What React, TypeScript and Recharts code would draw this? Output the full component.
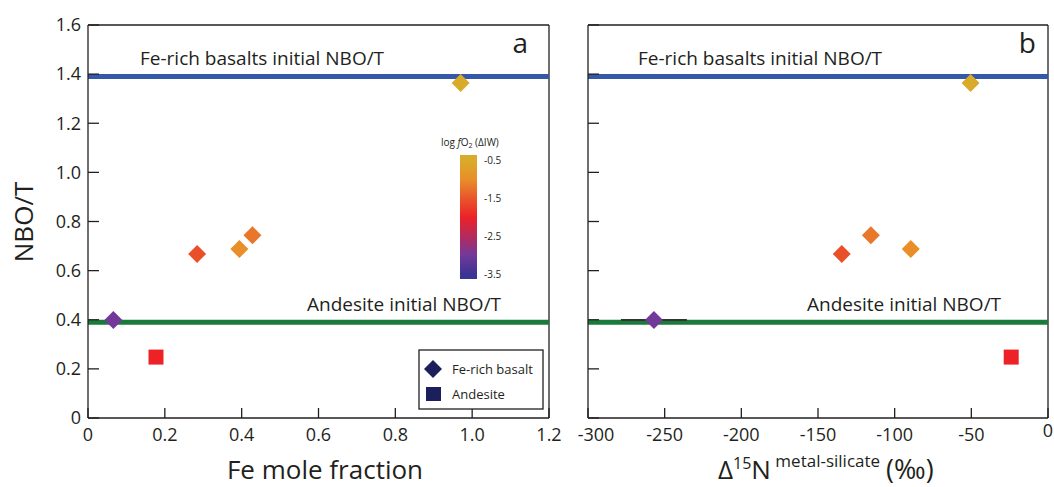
import React from 'react';
import { ScatterChart, Scatter, XAxis, YAxis, ReferenceLine, ErrorBar } from 'recharts';

// Fe-rich basalt runs (diamonds)
const basaltFe = [0.066, 0.284, 0.394, 0.428, 0.97];
const basaltNbo = [0.399, 0.668, 0.688, 0.744, 1.364];
const basaltD15N = [-257, -134.5, -89.5, -115.5, -50.5];
const basaltD15NErr = [21.5, 0, 0, 0, 0];
const basaltLogFO2 = [-3.0, -1.55, -1.0, -1.2, -0.5];

// andesite run (square)
const andesiteFe = [0.177];
const andesiteNbo = [0.248];
const andesiteD15N = [-24];
const andesiteLogFO2 = [-2.0];

const basaltInitialNbo = 1.39;
const andesiteInitialNbo = 0.39;

const feTicks = [0, 0.2, 0.4, 0.6, 0.8, 1.0, 1.2];
const nboTicks = [0, 0.2, 0.4, 0.6, 0.8, 1.0, 1.2, 1.4, 1.6];
const d15NTicks = [-300, -250, -200, -150, -100, -50, 0];
const fo2Ticks = [-0.5, -1.5, -2.5, -3.5];

const FONT = '"Open Sans", sans-serif';
const INK = '#231f20';
const BLUE = '#3558a8';
const GREEN = '#1a7a3c';
const NAVY = '#1b1f5b';

// colour scale of the log fO2 bar
const fo2Stops: [number, string][] = [
  [-0.5, '#d9ab2b'],
  [-1.0, '#e98e28'],
  [-1.5, '#e9552a'],
  [-2.0, '#ec2227'],
  [-2.5, '#b52a5c'],
  [-3.0, '#72399a'],
  [-3.5, '#3b3492'],
];

function hexToRgb(h: string) {
  return [1, 3, 5].map((i) => parseInt(h.slice(i, i + 2), 16));
}

function fo2Color(v: number) {
  if (v >= fo2Stops[0][0]) return fo2Stops[0][1];
  for (let i = 1; i < fo2Stops.length; i++) {
    const [v1, c1] = fo2Stops[i];
    const [v0, c0] = fo2Stops[i - 1];
    if (v >= v1) {
      const t = (v0 - v) / (v0 - v1);
      const a = hexToRgb(c0);
      const b = hexToRgb(c1);
      const m = a.map((x, k) => Math.round(x + (b[k] - x) * t));
      return `rgb(${m[0]},${m[1]},${m[2]})`;
    }
  }
  return fo2Stops[fo2Stops.length - 1][1];
}

const basaltA = basaltFe.map((fe, i) => ({ x: fe, y: basaltNbo[i], fo2: basaltLogFO2[i] }));
const andesiteA = andesiteFe.map((fe, i) => ({ x: fe, y: andesiteNbo[i], fo2: andesiteLogFO2[i] }));
const basaltB = basaltD15N.map((d, i) => ({ x: d, y: basaltNbo[i], fo2: basaltLogFO2[i], err: basaltD15NErr[i] }));
const andesiteB = andesiteD15N.map((d, i) => ({ x: d, y: andesiteNbo[i], fo2: andesiteLogFO2[i] }));

const Diamond = (props: any) => {
  const { cx, cy, payload } = props;
  const r = 9;
  return (
    <polygon
      points={`${cx},${cy - r} ${cx + r},${cy} ${cx},${cy + r} ${cx - r},${cy}`}
      fill={fo2Color(payload.fo2)}
    />
  );
};

const Square = (props: any) => {
  const { cx, cy, payload } = props;
  return <rect x={cx - 7.5} y={cy - 7.5} width={15} height={15} fill={fo2Color(payload.fo2)} />;
};

const Y_MARGIN = 7;
const X_MARGIN = 10;
const TICK_LEN = 11;

const fmt1 = (v: number) => (v === 0 ? '0' : v.toFixed(1));

const LeftTick = (props: any, showLabel: boolean) => {
  const { x, y, payload } = props;
  const ax = x + Y_MARGIN;
  return (
    <g>
      <line x1={ax} x2={ax + TICK_LEN} y1={y} y2={y} stroke={INK} strokeWidth={1.3} />
      {showLabel && (
        <text x={x} y={y} dy="0.35em" textAnchor="end" fontFamily={FONT} fontSize={18} fill={INK}>
          {fmt1(payload.value)}
        </text>
      )}
    </g>
  );
};

// panel b: "0" sits a little higher and "-300" a little right, as in the original
const BottomTick = (props: any, label: (v: number) => string, shiftEnds: boolean) => {
  const { x, y, payload } = props;
  const ay = y - X_MARGIN;
  const lift = shiftEnds && payload.value === 0 ? -4 : 0;
  const nudge = shiftEnds && payload.value === -300 ? 8 : 0;
  return (
    <g>
      <line x1={x} x2={x} y1={ay} y2={ay - 10} stroke={INK} strokeWidth={1.3} />
      <text x={x + nudge} y={y + lift} dy="0.71em" textAnchor="middle" fontFamily={FONT} fontSize={18} fill={INK}>
        {label(payload.value)}
      </text>
    </g>
  );
};

const axisLine = { stroke: INK, strokeWidth: 1.3 };

// colour bar geometry
const barTop = 155;
const barBottom = 279;
const fo2Y = (v: number) => 160.7 + (-0.5 - v) * 37.8;

export default function App() {
  return (
    <div style={{ position: 'absolute', left: 0, top: 0, width: 1054, height: 487, background: '#fff', overflow: 'hidden' }}>
      <div style={{ position: 'absolute', left: 0, top: 0 }}>
        <ScatterChart width={580} height={487} margin={{ top: 25, right: 31, bottom: 0, left: 0 }}>
          <XAxis
            type="number"
            dataKey="x"
            domain={[0, 1.2]}
            ticks={feTicks}
            interval={0}
            height={69}
            tickSize={0}
            tickMargin={X_MARGIN}
            tickLine={false}
            axisLine={axisLine}
            tick={(p: any) => BottomTick(p, fmt1, false)}
          />
          <YAxis
            type="number"
            dataKey="y"
            domain={[0, 1.6]}
            ticks={nboTicks}
            interval={0}
            width={88}
            tickSize={0}
            tickMargin={Y_MARGIN}
            tickLine={false}
            axisLine={axisLine}
            tick={(p: any) => LeftTick(p, true)}
          />
          <ReferenceLine y={1.6} stroke={INK} strokeWidth={1.3} />
          <ReferenceLine x={1.2} stroke={INK} strokeWidth={1.3} />
          <ReferenceLine y={basaltInitialNbo} stroke={BLUE} strokeWidth={5} />
          <ReferenceLine y={andesiteInitialNbo} stroke={GREEN} strokeWidth={5} />
          <Scatter data={basaltA} shape={Diamond} isAnimationActive={false} />
          <Scatter data={andesiteA} shape={Square} isAnimationActive={false} />
        </ScatterChart>
      </div>
      <div style={{ position: 'absolute', left: 560, top: 0 }}>
        <ScatterChart width={494} height={487} margin={{ top: 25, right: 6, bottom: 0, left: 0 }}>
          <XAxis
            type="number"
            dataKey="x"
            domain={[-300, 0]}
            ticks={d15NTicks}
            interval={0}
            height={69}
            tickSize={0}
            tickMargin={X_MARGIN}
            tickLine={false}
            axisLine={axisLine}
            tick={(p: any) => BottomTick(p, (v) => String(v), true)}
          />
          <YAxis
            type="number"
            dataKey="y"
            domain={[0, 1.6]}
            ticks={nboTicks}
            interval={0}
            width={28}
            tickSize={0}
            tickMargin={Y_MARGIN}
            tickLine={false}
            axisLine={axisLine}
            tick={(p: any) => LeftTick(p, false)}
          />
          <ReferenceLine y={1.6} stroke={INK} strokeWidth={1.3} />
          <ReferenceLine x={0} stroke={INK} strokeWidth={1.3} />
          <ReferenceLine y={basaltInitialNbo} stroke={BLUE} strokeWidth={5} />
          <ReferenceLine y={andesiteInitialNbo} stroke={GREEN} strokeWidth={5} />
          <Scatter data={basaltB} shape={Diamond} isAnimationActive={false}>
            <ErrorBar dataKey="err" direction="x" width={0} stroke="#333" strokeWidth={2} />
          </Scatter>
          <Scatter data={andesiteB} shape={Square} isAnimationActive={false} />
        </ScatterChart>
      </div>

      <svg
        width={1054}
        height={487}
        style={{ position: 'absolute', left: 0, top: 0, pointerEvents: 'none' }}
        fontFamily={FONT}
        fill={INK}
      >
        <defs>
          <linearGradient id="fo2bar" x1="0" y1="0" x2="0" y2="1">
            {fo2Stops.map(([v, c]) => (
              <stop key={v} offset={(fo2Y(v) - barTop) / (barBottom - barTop)} stopColor={c} />
            ))}
          </linearGradient>
        </defs>

        {/* axis titles */}
        <text x={24} y={222} dy="0.35em" textAnchor="middle" fontSize={26} transform="rotate(-90 24 222)">
          NBO/T
        </text>
        <text x={325} y={479} textAnchor="middle" fontSize={26}>
          Fe mole fraction
        </text>
        <text x={718} y={479} fontSize={26}>
          Δ<tspan fontSize={16} dy={-10}>15</tspan>
          <tspan dy={10}>N</tspan>
          <tspan fontSize={17} dy={-12}> metal-silicate</tspan>
          <tspan dy={12} dx={6} fontSize={27}>(‰)</tspan>
        </text>

        {/* panel letters */}
        <text x={528} y={53} textAnchor="end" fontSize={28}>a</text>
        <text x={1036} y={53} textAnchor="end" fontSize={28}>b</text>

        {/* reference line annotations */}
        <text x={140} y={65} fontSize={19}>Fe-rich basalts initial NBO/T</text>
        <text x={307} y={311} fontSize={19}>Andesite initial NBO/T</text>
        <text x={638} y={65} fontSize={19}>Fe-rich basalts initial NBO/T</text>
        <text x={807} y={311} fontSize={19}>Andesite initial NBO/T</text>

        {/* colour bar */}
        <text x={441} y={146} fontSize={10}>
          log <tspan fontStyle="italic">f</tspan>O<tspan fontSize={7} dy={2}>2</tspan>
          <tspan dy={-2}> (ΔIW)</tspan>
        </text>
        <rect x={460} y={barTop} width={17} height={barBottom - barTop} fill="url(#fo2bar)" />
        {fo2Ticks.map((v) => (
          <text key={v} x={484} y={fo2Y(v)} dy="0.35em" fontSize={10}>
            {v.toFixed(1)}
          </text>
        ))}

        {/* legend */}
        <rect x={419} y={350} width={124} height={59} fill="#fff" stroke={INK} strokeWidth={1.3} />
        <polygon points="433,360 442,369 433,378 424,369" fill={NAVY} />
        <text x={452} y={369} dy="0.35em" fontSize={13}>Fe-rich basalt</text>
        <rect x={426} y={387} width={15} height={14} fill={NAVY} />
        <text x={452} y={394} dy="0.35em" fontSize={13}>Andesite</text>
      </svg>
    </div>
  );
}
